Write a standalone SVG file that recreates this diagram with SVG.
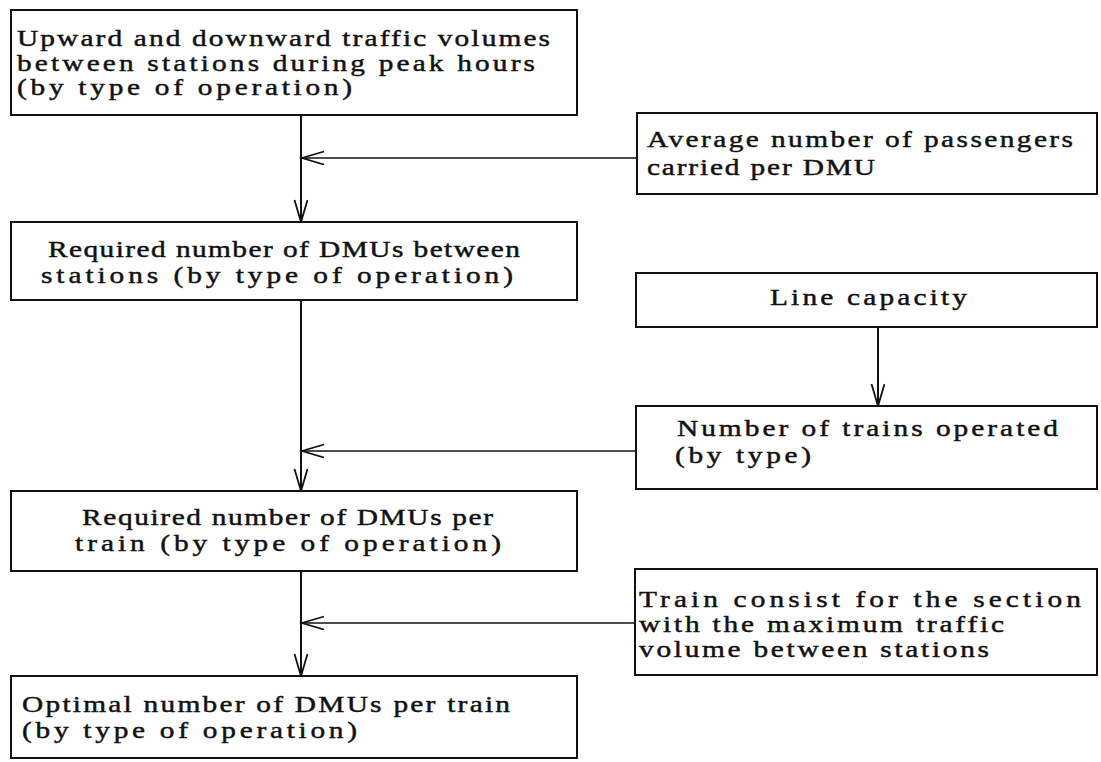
<svg xmlns="http://www.w3.org/2000/svg" width="1101" height="762" viewBox="0 0 1101 762">
  <style>
    .box { fill: #fff; stroke: #111; stroke-width: 2; }
    /* typewriter-like lettering: serif face widened to a fixed pitch of ~15.3px */
    .lbl { font-family: "Liberation Serif", "Times New Roman", serif; font-size: 23.5px; fill: #111; stroke: #111; stroke-width: 0.45; }
    .conn { fill: none; stroke: #111; stroke-width: 2; }
    .feed { fill: none; stroke: #111; stroke-width: 1.6; }
  </style>
  <defs>
    <marker id="arrow" markerUnits="userSpaceOnUse" markerWidth="26" markerHeight="16" refX="23" refY="7" orient="auto">
      <path d="M1,0.5 L23,7 L1,13.5" fill="none" stroke="#111" stroke-width="1.8"/>
    </marker>
  </defs>
  <rect width="1101" height="762" fill="#fff"/>

  <!-- connectors: main flow down the left, inputs feeding in from the right -->
  <g id="connectors">
    <line class="conn" x1="301" y1="115" x2="301" y2="222" marker-end="url(#arrow)"/>
    <line class="feed" x1="637" y1="158" x2="302" y2="158" marker-end="url(#arrow)"/>
    <line class="conn" x1="301" y1="300" x2="301" y2="491" marker-end="url(#arrow)"/>
    <line class="conn" x1="878" y1="327" x2="878" y2="406" marker-end="url(#arrow)"/>
    <line class="feed" x1="636" y1="451" x2="302" y2="451" marker-end="url(#arrow)"/>
    <line class="conn" x1="301" y1="571" x2="301" y2="676" marker-end="url(#arrow)"/>
    <line class="feed" x1="635" y1="623" x2="302" y2="623" marker-end="url(#arrow)"/>
  </g>

  <g id="traffic-volumes">
    <rect class="box" x="11" y="10" width="566" height="105"/>
    <g transform="scale(1.25 1)">
      <text class="lbl" x="13.6" y="46" textLength="426.4" lengthAdjust="spacing">Upward and downward traffic volumes</text>
      <text class="lbl" x="13.6" y="71" textLength="414.4" lengthAdjust="spacing">between stations during peak hours</text>
      <text class="lbl" x="13.6" y="95" textLength="268" lengthAdjust="spacing">(by type of operation)</text>
    </g>
  </g>

  <g id="passengers-per-dmu">
    <rect class="box" x="637" y="113" width="460" height="81"/>
    <g transform="scale(1.25 1)">
      <text class="lbl" x="517.6" y="147" textLength="340.8" lengthAdjust="spacing">Average number of passengers</text>
      <text class="lbl" x="517.6" y="175" textLength="182.4" lengthAdjust="spacing">carried per DMU</text>
    </g>
  </g>

  <g id="dmus-between-stations">
    <rect class="box" x="11" y="222" width="566" height="78"/>
    <g transform="scale(1.25 1)">
      <text class="lbl" x="38.4" y="257" textLength="377.6" lengthAdjust="spacing">Required number of DMUs between</text>
      <text class="lbl" x="32.8" y="283" textLength="377.6" lengthAdjust="spacing">stations (by type of operation)</text>
    </g>
  </g>

  <g id="line-capacity">
    <rect class="box" x="636" y="273" width="461" height="54"/>
    <g transform="scale(1.25 1)">
      <text class="lbl" x="616" y="305" textLength="157.6" lengthAdjust="spacing">Line capacity</text>
    </g>
  </g>

  <g id="trains-operated">
    <rect class="box" x="636" y="406" width="461" height="83"/>
    <g transform="scale(1.25 1)">
      <text class="lbl" x="541.6" y="436" textLength="304.8" lengthAdjust="spacing">Number of trains operated</text>
      <text class="lbl" x="540" y="463" textLength="108.8" lengthAdjust="spacing">(by type)</text>
    </g>
  </g>

  <g id="dmus-per-train">
    <rect class="box" x="11" y="491" width="566" height="80"/>
    <g transform="scale(1.25 1)">
      <text class="lbl" x="65.6" y="525" textLength="328.8" lengthAdjust="spacing">Required number of DMUs per</text>
      <text class="lbl" x="60" y="551" textLength="340.8" lengthAdjust="spacing">train (by type of operation)</text>
    </g>
  </g>

  <g id="train-consist">
    <rect class="box" x="635" y="569" width="462" height="106"/>
    <g transform="scale(1.25 1)">
      <text class="lbl" x="511.2" y="607" textLength="353.6" lengthAdjust="spacing">Train consist for the section</text>
      <text class="lbl" x="511.2" y="632" textLength="292" lengthAdjust="spacing">with the maximum traffic</text>
      <text class="lbl" x="511.2" y="657" textLength="280" lengthAdjust="spacing">volume between stations</text>
    </g>
  </g>

  <g id="optimal-dmus">
    <rect class="box" x="11" y="676" width="566" height="82"/>
    <g transform="scale(1.25 1)">
      <text class="lbl" x="17.6" y="712" textLength="390.4" lengthAdjust="spacing">Optimal number of DMUs per train</text>
      <text class="lbl" x="17.6" y="738" textLength="268" lengthAdjust="spacing">(by type of operation)</text>
    </g>
  </g>
</svg>
